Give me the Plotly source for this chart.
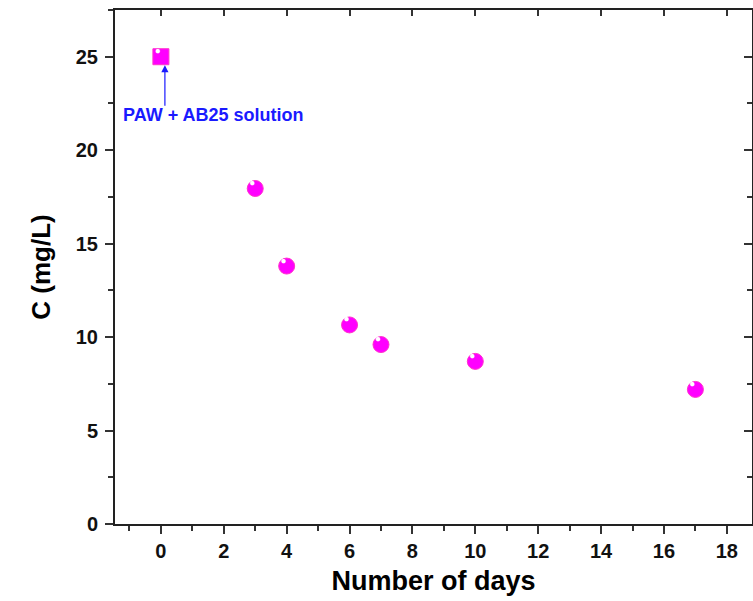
import plotly.graph_objects as go

days = [0, 3, 4, 6, 7, 10, 17]
conc = [25.0, 17.95, 13.8, 10.65, 9.6, 8.7, 7.2]
symbols = ["square", "circle", "circle", "circle", "circle", "circle", "circle"]
x_ticks = [0, 2, 4, 6, 8, 10, 12, 14, 16, 18]
y_ticks = [0, 5, 10, 15, 20, 25]
annot_text = "PAW + AB25 solution"

MAG = "#ff00ff"
FONT = "Liberation Sans, Arial, sans-serif"

fig = go.Figure()
fig.add_trace(go.Scatter(
    x=days, y=conc, mode="markers",
    marker=dict(symbol=symbols, size=16, color=MAG,
                line=dict(color="#ff33cc", width=1)),
    showlegend=False, hoverinfo="x+y"))
# sphere highlight
fig.add_trace(go.Scatter(
    x=days, y=conc, mode="text", text=["●"] * len(days),
    textposition="top left", textfont=dict(color="white", size=10),
    showlegend=False, hoverinfo="skip"))
# invisible trace for secondary (mirror) axes
fig.add_trace(go.Scatter(x=[days[0]], y=[conc[0]], xaxis="x2", yaxis="y2",
                         mode="markers", marker=dict(opacity=0),
                         showlegend=False, hoverinfo="skip"))

xr = [-1.46, 18.8]
yr = [0, 27.5]

axis_common = dict(showgrid=False, zeroline=False, showline=True,
                   linecolor="#222", linewidth=2, tickcolor="#333",
                   tickwidth=2, mirror=False)

fig.update_layout(
    width=753, height=601,
    margin=dict(l=115, r=1, t=10, b=77),
    paper_bgcolor="white", plot_bgcolor="white",
    font=dict(family=FONT, color="black"),
    xaxis=dict(range=xr, tickvals=x_ticks, ticks="outside", ticklen=8,
               tickfont=dict(size=20, family=FONT, weight="bold", color="#111"),
               minor=dict(dtick=1, tick0=-1, ticks="outside", ticklen=5,
                          tickcolor="#333", tickwidth=2),
               title=dict(text="<b>Number of days</b>", font=dict(size=27),
                          standoff=10),
               **axis_common),
    yaxis=dict(range=yr, tickvals=y_ticks, ticks="outside", ticklen=8,
               ticklabelstandoff=3,
               tickfont=dict(size=20, family=FONT, weight="bold", color="#111"),
               minor=dict(dtick=2.5, tick0=0, ticks="outside", ticklen=5,
                          tickcolor="#333", tickwidth=2),
               title=dict(text="<b>C (mg/L)</b>", font=dict(size=26),
                          standoff=18),
               **axis_common),
    xaxis2=dict(range=xr, overlaying="x", side="top", anchor="y2",
                tickvals=x_ticks, ticks="inside", ticklen=6,
                showticklabels=False,
                minor=dict(dtick=1, tick0=-1, ticks="inside", ticklen=0),
                **axis_common),
    yaxis2=dict(range=yr, overlaying="y", side="right", anchor="x2",
                tickvals=y_ticks, ticks="inside", ticklen=8,
                showticklabels=False,
                minor=dict(dtick=2.5, tick0=0, ticks="inside", ticklen=5,
                           tickcolor="#333", tickwidth=2),
                **axis_common),
)

fig.add_annotation(x=days[0], y=24.55, text="", showarrow=True,
                   ax=0, ay=42, arrowhead=2, arrowsize=1.2, arrowwidth=1.2,
                   arrowcolor="#1a1aff", xshift=4)
fig.add_annotation(x=1.66, y=21.9, text="<b>" + annot_text + "</b>",
                   showarrow=False, font=dict(size=18, color="#1a1aff", family=FONT))

fig.write_html("out.html")
